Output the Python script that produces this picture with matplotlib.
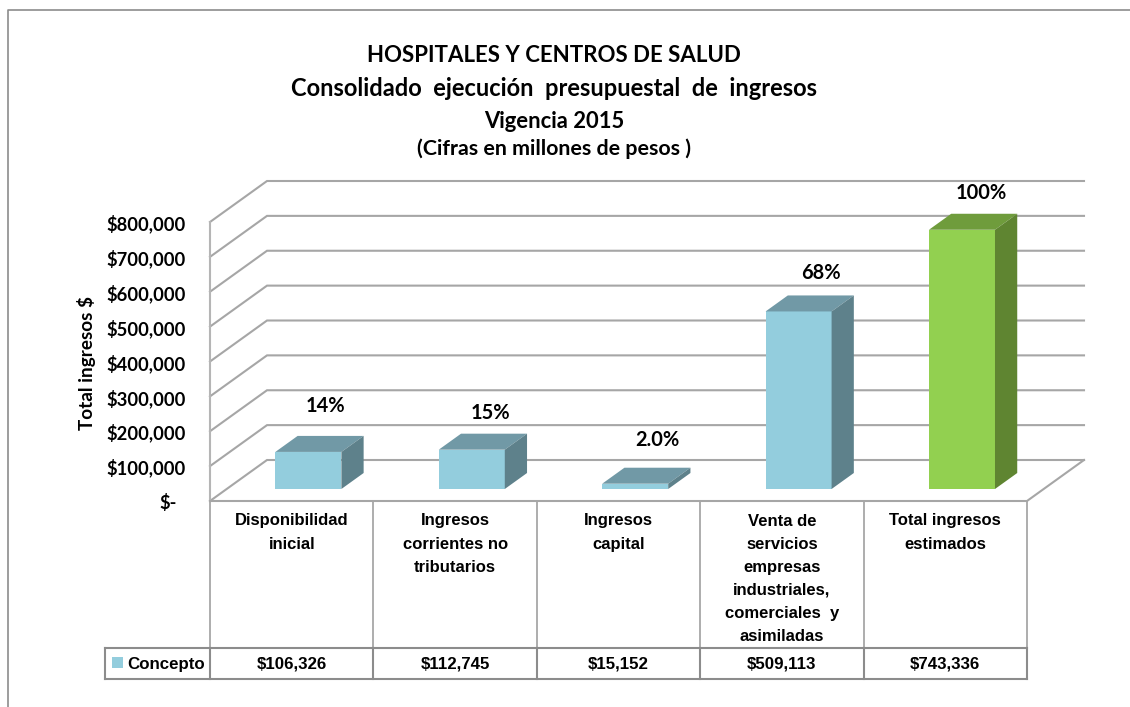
import matplotlib
matplotlib.use("Agg")
import matplotlib.pyplot as plt
from matplotlib.patches import Polygon, Rectangle

W, H = 1130, 707
categories = ["Disponibilidad\ninicial", "Ingresos\ncorrientes no\ntributarios", "Ingresos\ncapital",
              "Venta de\nservicios\nempresas\nindustriales,\ncomerciales  y\nasimiladas", "Total ingresos\nestimados"]
values = [106326, 112745, 15152, 509113, 743336]
value_labels = ["$106,326", "$112,745", "$15,152", "$509,113", "$743,336"]
pct_labels = ["14%", "15%", "2.0%", "68%", "100%"]
y_ticks = [0, 100000, 200000, 300000, 400000, 500000, 600000, 700000, 800000]
y_tick_labels = ["$-", "$100,000", "$200,000", "$300,000", "$400,000", "$500,000", "$600,000", "$700,000", "$800,000"]
titles = ["HOSPITALES Y CENTROS DE SALUD", "Consolidado  ejecución  presupuestal  de  ingresos", "Vigencia 2015", "(Cifras en millones de pesos )"]

fig = plt.figure(figsize=(W/100, H/100), dpi=100, facecolor="white")
# Bare overlay in pixel coordinates for frame/titles/table furniture
bg = fig.add_axes([0, 0, 1, 1]); bg.set_xlim(0, W); bg.set_ylim(H, 0); bg.axis("off")
bg.plot([8, 8, 1130], [707, 9.5, 9.5], color="#8c8c8c", lw=1.2)

L, R, Y0, Y8 = 210, 1027, 501, 222
ax = fig.add_axes([L/W, 1-Y0/H, (R-L)/W, (Y0-Y8)/H])
ax.set_xlim(0, 5); ax.set_ylim(0, 800000); ax.axis("off")
PXX = 5/(R-L); PXY = 800000/(Y0-Y8)
DX, DY = 57*PXX, 41*PXY
def P(x, v, d):
    return (x + d*DX, v + d*DY)

GRID = "#a6a6a6"
for t in y_ticks:
    pts = [P(0, t, 0), P(0, t, 1), P(5, t, 1)]
    ax.plot(*zip(*pts), color=GRID, lw=1.5, clip_on=False, zorder=1, solid_joinstyle="miter")
ax.plot(*zip(P(0, 0, 0), P(0, 800000, 0)), color="#b5b5b5", lw=1.5, clip_on=False, zorder=1)
ax.plot(*zip(P(0, 0, 0), P(5, 0, 0), P(5, 0, 1)), color=GRID, lw=1.5, clip_on=False, zorder=1)

bw = 0.404; d0, d1 = 12/41, 28/41
blue = ("#93cddd", "#7199a6", "#5e818b"); green = ("#92d050", "#6f9c3c", "#5f8531")
label_dx = [-5, -4, 0, 0, -3]
label_dy = [9, 0, 7, 2, 0]
for i, v in enumerate(values):
    f, t, s = green if i == 4 else blue
    x0, x1 = i+.5-bw/2, i+.5+bw/2
    ax.add_patch(Polygon([P(x0, 0, d0), P(x1, 0, d0), P(x1, v, d0), P(x0, v, d0)], fc=f, ec="none", clip_on=False, zorder=3))
    ax.add_patch(Polygon([P(x0, v, d0), P(x1, v, d0), P(x1, v, d1), P(x0, v, d1)], fc=t, ec="none", clip_on=False, zorder=3))
    ax.add_patch(Polygon([P(x1, 0, d0), P(x1, 0, d1), P(x1, v, d1), P(x1, v, d0)], fc=s, ec="none", clip_on=False, zorder=3))
    lx, ly = P(i+.5, v, d1)
    ax.annotate(pct_labels[i], (lx, ly), xytext=(label_dx[i], 20.5+label_dy[i]), textcoords="offset pixels", ha="center", va="center",
                fontsize=14.4, fontweight="bold", family="Lato", annotation_clip=False, zorder=4)

for t, lab in zip(y_ticks, y_tick_labels):
    x = 186 if t else 177
    ax.annotate(lab, (0, t), xycoords="data", xytext=(x-L, -2), textcoords="offset pixels", ha="right", va="center",
                fontsize=13.2, fontweight="bold", family="Lato", annotation_clip=False)
bg.text(86, 363, "Total ingresos $", rotation=90, ha="center", va="center", fontsize=13.6, fontweight="bold", family="Lato")

for s, y, fs in zip(titles, [56, 89, 121, 149], [16, 17, 15.8, 15.4]):
    bg.text(554, y, s, ha="center", va="center", fontsize=fs, fontweight="bold", family="Lato")

# Data table
TC = "#8c8c8c"; RT, RB = 648, 679; cw = (R-L)/5
for i in range(6):
    x = L + i*cw
    bg.plot([x, x], [501, RT], color="#a0a0a0", lw=1.2)
    bg.plot([x, x], [RT, RB], color=TC, lw=1.5)
bg.plot([105, R], [RT, RT], color=TC, lw=1.5)
bg.plot([105, R], [RB, RB], color=TC, lw=1.5)
bg.plot([105, 105], [RT, RB], color=TC, lw=1.5)
bg.add_patch(Rectangle((112, 657), 11, 11, fc="#93cddd", ec="none"))
bg.text(127, 664, "Concepto", ha="left", va="center", fontsize=12.2, fontweight="bold", family="Liberation Sans")
for i in range(5):
    c = L + (i+.5)*cw
    bg.text(c, 513.5, categories[i], ha="center", va="top", fontsize=12, fontweight="bold", family="Liberation Sans", linespacing=1.68)
    bg.text(c, 664, value_labels[i], ha="center", va="center", fontsize=12.2, fontweight="bold", family="Liberation Sans")

fig.savefig("out.png", dpi=100)
